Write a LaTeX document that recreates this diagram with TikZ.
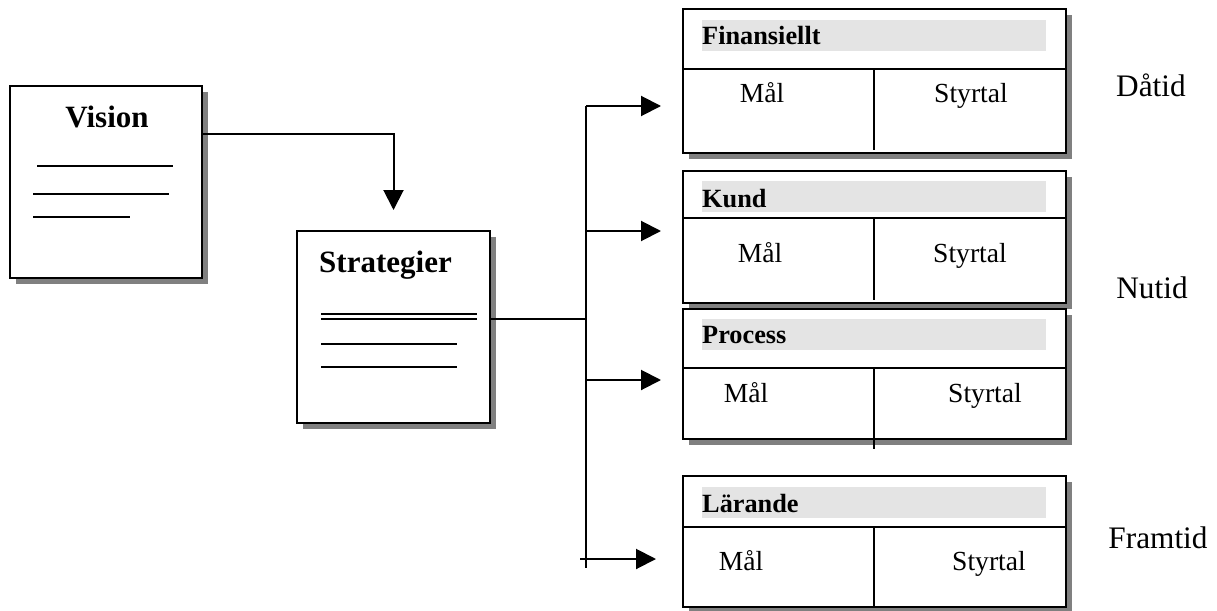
\documentclass[tikz,border=0pt]{standalone}
\usepackage{fontspec}
\setmainfont{Liberation Serif}
\usetikzlibrary{shadows,arrows.meta,calc}
\definecolor{band}{RGB}{228,228,228}
\definecolor{shade}{RGB}{128,128,128}
\begin{document}
\begin{tikzpicture}[x=1pt,y=-1pt,
  card/.style={draw, line width=2pt, fill=white, rectangle, inner sep=0pt,
    drop shadow={shadow xshift=6pt,shadow yshift=-6pt,fill=shade,opacity=1}},
  rule/.style={line width=1.5pt},
  div/.style={line width=2pt},
  conn/.style={line width=2pt},
  arr/.style={line width=2pt, -{Triangle[length=20pt,width=20pt]}},
  headband/.style={fill=band, draw=none},
  title/.style={font=\fontsize{31}{34}\selectfont\bfseries, anchor=base, inner sep=0pt},
  head/.style={font=\fontsize{26.3}{29}\selectfont\bfseries, anchor=base west, inner sep=0pt},
  cell/.style={font=\fontsize{27.6}{30}\selectfont, anchor=base, inner sep=0pt},
  era/.style={font=\fontsize{31.3}{34}\selectfont, anchor=base, inner sep=0pt}
]
\useasboundingbox (0,0) rectangle (1217,610);

% --- Vision document
\node[card, minimum width=192pt, minimum height=192pt] (vision) at (106,182) {};
\node[title] (visiontitle) at (107,127) {Vision};
\draw[rule] (37,166) -- (173,166);
\draw[rule] (33,194) -- (169,194);
\draw[rule] (33,217) -- (130,217);

% --- Strategier document
\node[card, minimum width=193pt, minimum height=192pt] (strat) at (393.5,327) {};
\node[title] (strattitle) at (385.5,272) {Strategier};
\draw[rule] (321,314) -- (477,314);
\draw[rule] (321,319) -- (477,319);
\draw[rule] (321,344) -- (457,344);
\draw[rule] (321,367) -- (457,367);

% --- perspective cards
\node[card, minimum width=383pt, minimum height=144pt] (fin)  at (874.5,81) {};
\node[card, minimum width=383pt, minimum height=132pt] (kund) at (874.5,237) {};
\node[card, minimum width=383pt, minimum height=130pt] (proc) at (874.5,374) {};
\node[card, minimum width=383pt, minimum height=131pt] (lar)  at (874.5,541.5) {};

% header bands
\fill[headband] (702,20)  rectangle (1046,51);
\fill[headband] (702,181) rectangle (1046,212);
\fill[headband] (702,319) rectangle (1046,350);
\fill[headband] (702,487) rectangle (1046,518);

% header / column dividers
\draw[div] (683,69)  -- (1066,69);   \draw[div] (874,69)  -- (874,150);
\draw[div] (683,218) -- (1066,218);  \draw[div] (874,218) -- (874,300);
\draw[div] (683,368) -- (1066,368);  \draw[div] (874,368) -- (874,449);
\draw[div] (683,527) -- (1066,527);  \draw[div] (874,527) -- (874,607);

% headers
\node[head] (finh)  at (702,45)  {Finansiellt};
\node[head] (kundh) at (702,207) {Kund};
\node[head] (proch) at (702,343) {Process};
\node[head] (larh)  at (702,512) {Lärande};

% cells
\node[cell] (finm)  at (762,102) {Mål};  \node[cell] (fins)  at (971,102) {Styrtal};
\node[cell] (kundm) at (760,262) {Mål};  \node[cell] (kunds) at (970,262) {Styrtal};
\node[cell] (procm) at (746,402) {Mål};  \node[cell] (procs) at (985,402) {Styrtal};
\node[cell] (larm)  at (741,570) {Mål};  \node[cell] (lars)  at (989,570) {Styrtal};

% time labels
\node[era] (past)    at (1151,96)  {Dåtid};
\node[era] (present) at (1152,298) {Nutid};
\node[era] (future)  at (1158,548) {Framtid};

% --- connectors
\coordinate (vout)   at ($(vision.north east)+(0,49)$);
\draw[arr, shorten >=20pt] (vout) -| (strat.north);

\coordinate (sout)   at ($(strat.east)+(0,-8)$);
\coordinate (bustop) at (586,106);
\coordinate (busk)   at (586,231);
\coordinate (busmid) at (586,319);
\coordinate (busp)   at (586,380);
\coordinate (busl)   at (586,559);
\coordinate (busend) at (586,568);
\coordinate (stub)   at (580,559);

\draw[conn] (sout) -- (busmid);
\draw[conn] (bustop) -- (busend);
\draw[arr, shorten >=21pt] (bustop) -- (fin.west |- bustop);
\draw[arr, shorten >=21pt] (busk) -- (kund.west |- busk);
\draw[arr, shorten >=21pt] (busp) -- (proc.west |- busp);
\draw[arr, shorten >=26pt] (stub) -- (lar.west |- stub);
\end{tikzpicture}
\end{document}
